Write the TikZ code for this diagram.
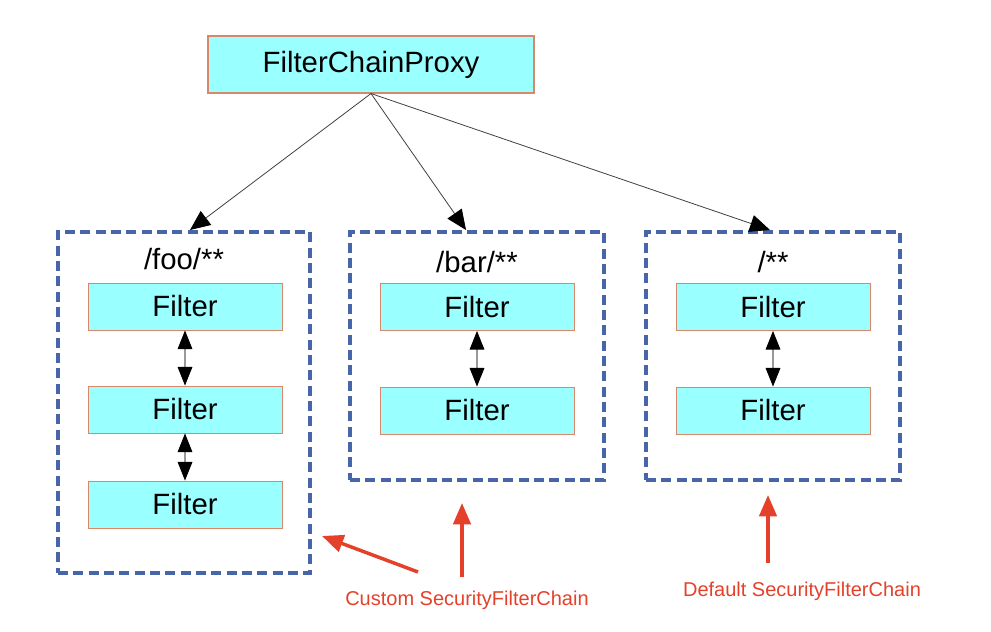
\documentclass[tikz,border=0pt]{standalone}
\usepackage{fontspec}
\setmainfont{Liberation Sans}
\usetikzlibrary{arrows.meta}
\definecolor{boxcyan}{HTML}{99FFFF}
\definecolor{boxedge}{HTML}{D9876A}
\definecolor{chainblue}{HTML}{4765A8}
\definecolor{notered}{HTML}{E5402A}

\begin{document}
\begin{tikzpicture}[x=0.75pt, y=-0.75pt, font=\fontsize{22}{26}\selectfont]
    \tikzstyle{node_proxy} = [draw=boxedge, fill=boxcyan, line width=0.8pt, minimum width=244.5pt, minimum height=42.75pt, inner sep=0pt]
    \tikzstyle{node_filter} = [draw=boxedge, fill=boxcyan, line width=0.6pt, minimum width=145.5pt, minimum height=35.25pt, inner sep=0pt]
    \tikzstyle{box_chain} = [draw=chainblue, line width=3pt, dash pattern=on 7.5pt off 4pt, inner sep=0pt]
    \tikzstyle{arrow_black} = [-{Triangle[length=15pt, width=13pt, fill=black, color=black]}, black!75, line width=0.6pt]
    \tikzstyle{arrow_both} = [{Triangle[length=14pt, width=11pt, fill=black, color=black]}-{Triangle[length=14pt, width=11pt, fill=black, color=black]}, black!40, line width=0.8pt]
    \tikzstyle{arrow_red} = [-{Triangle[length=16pt, width=13pt]}, notered, line width=2.6pt]
    \tikzstyle{note_red} = [text=notered, font=\fontsize{15}{18}\selectfont]

    \useasboundingbox (0,0) rectangle (991,631);

    \node[node_proxy] (proxy) at (371,64.5) {FilterChainProxy};

    % ---------------------------------------

    \node[box_chain, minimum width=189pt, minimum height=255.75pt] (cFoo) at (184,402.5) {};
    \node[box_chain, minimum width=190.5pt, minimum height=186pt] (cBar) at (477,356) {};
    \node[box_chain, minimum width=190.5pt, minimum height=186pt] (cAll) at (773,356) {};

    \node (lFoo) at (184,259) {/foo/**};
    \node (lBar) at (477,262) {/bar/**};
    \node (lAll) at (773,262) {/**};

    % ---------------------------------------

    \node[node_filter] (fFoo1) at (185,306.5) {Filter};
    \node[node_filter] (fFoo2) at (185,409.5) {Filter};
    \node[node_filter] (fFoo3) at (185,504.5) {Filter};

    \node[node_filter] (fBar1) at (477,307) {Filter};
    \node[node_filter] (fBar2) at (477,410.5) {Filter};

    \node[node_filter] (fAll1) at (773,307) {Filter};
    \node[node_filter] (fAll2) at (773,410.5) {Filter};

    \draw[arrow_both] (fFoo1) -- (fFoo2);
    \draw[arrow_both] (fFoo2) -- (fFoo3);
    \draw[arrow_both] (fBar1) -- (fBar2);
    \draw[arrow_both] (fAll1) -- (fAll2);

    % ---------------------------------------

    \draw[arrow_black] (proxy.south) -- ([xshift=4.5pt]cFoo.north);
    \draw[arrow_black] (proxy.south) -- ([xshift=-8.25pt]cBar.north);
    \draw[arrow_black] (proxy.south) -- ([xshift=-2.25pt]cAll.north);

    % ---------------------------------------

    \node[note_red] (nCustom) at (467,600) {Custom SecurityFilterChain};
    \node[note_red] (nDefault) at (802,591) {Default SecurityFilterChain};

    \coordinate (rA1) at (418,572);
    \coordinate (rA2) at (322,536);
    \coordinate (rB1) at (462,577);
    \coordinate (rB2) at (462,503);
    \coordinate (rC1) at (768,563);
    \coordinate (rC2) at (768,495);

    \draw[arrow_red] (rA1) -- (rA2);
    \draw[arrow_red] (rB1) -- (rB2);
    \draw[arrow_red] (rC1) -- (rC2);

\end{tikzpicture}
\end{document}
